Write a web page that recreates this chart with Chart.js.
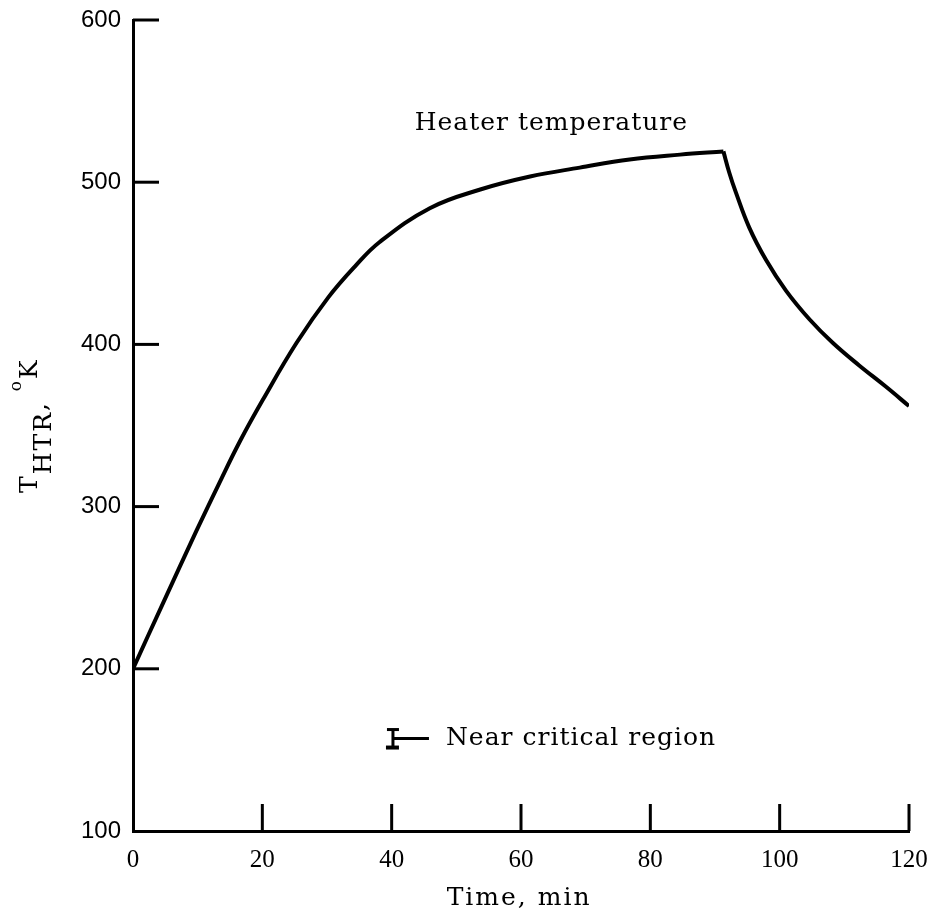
<!DOCTYPE html>
<html>
<head>
<meta charset="utf-8">
<script src="https://cdn.jsdelivr.net/npm/chart.js@4.4.0/dist/chart.umd.min.js"></script>
<style>
  html, body { margin: 0; padding: 0; background: #fff; }
  #wrap { width: 944px; height: 918px; }
</style>
</head>
<body>
<div id="wrap"><canvas id="chart" width="944" height="918"></canvas></div>
<script>
// Heater temperature, rising part (min, K)
const riseTime = [0, 4.7, 9.8, 13.4, 16.5, 20.1, 25.3, 30.2, 34.3, 38.1, 45.9, 53.7, 61.4, 69.1, 76.8, 84.6, 91.3];
const riseTemp = [200, 241, 285, 315, 340, 366, 401, 429, 448, 463, 484, 495.5, 503.5, 509, 514, 517, 519];
// cooling part after the heater is switched off
const fallTime = [91.3, 92.2, 93.2, 95.3, 97.9, 101, 104.6, 108.2, 112.3, 116.4, 120];
const fallTemp = [519, 506, 494, 472, 452, 433, 415.5, 401, 387, 374, 362];

const xTicks = [0, 20, 40, 60, 80, 100, 120];
const yTicks = [100, 200, 300, 400, 500, 600];

const curveLabel = "Heater temperature";
const legendLabel = "Near critical region";
const xTitle = "Time, min";

function toPoints(xs, ys) {
    return xs.map((t, i) => ({ x: t, y: ys[i] }));
}

const inkPlugin = {
    id: "ink",
    afterDraw(chart) {
        const { ctx, scales: { x, y } } = chart;
        const line = (ax, ay, bx, by) => {
            ctx.beginPath();
            ctx.moveTo(ax, ay);
            ctx.lineTo(bx, by);
            ctx.stroke();
        };
        ctx.save();
        ctx.strokeStyle = "#000";
        ctx.fillStyle = "#000";
        ctx.lineWidth = 3;

        // inward tick marks
        const x0 = x.getPixelForValue(0);
        const y0 = y.getPixelForValue(100);
        yTicks.slice(1).forEach(v => {
            const py = y.getPixelForValue(v);
            line(x0, py, x0 + 26, py);
        });
        xTicks.slice(1).forEach(v => {
            const px = x.getPixelForValue(v);
            line(px, y0, px, y0 - 27);
        });

        // curve label
        ctx.font = "25px 'DejaVu Serif'";
        ctx.letterSpacing = "1px";
        ctx.textAlign = "center";
        ctx.textBaseline = "middle";
        ctx.fillText(curveLabel, x.getPixelForValue(64.7), y.getPixelForValue(536));

        // legend: I-beam symbol + dash
        const sx = x.getPixelForValue(40.2);
        const sy = y.getPixelForValue(157);
        line(sx, sy - 9, sx, sy + 9);
        line(sx - 6, sy - 9, sx + 6, sy - 9);
        ctx.lineWidth = 4;
        line(sx - 7, sy + 9, sx + 6, sy + 9);
        ctx.lineWidth = 3;
        line(sx, sy, sx + 36, sy);
        ctx.textAlign = "left";
        ctx.fillText(legendLabel, x.getPixelForValue(48.4), sy);

        // x axis title
        ctx.textAlign = "center";
        ctx.letterSpacing = "2px";
        ctx.fillText(xTitle, x.getPixelForValue(59.7), 898);

        // y axis title: T_HTR, °K (rotated)
        ctx.translate(37, 493);
        ctx.rotate(-Math.PI / 2);
        ctx.letterSpacing = "2px";
        ctx.textAlign = "left";
        ctx.textBaseline = "alphabetic";
        let cx = 0;
        ctx.font = "25px 'DejaVu Serif'";
        ctx.fillText("T", cx, 0);
        cx += ctx.measureText("T").width;
        ctx.fillText("HTR", cx, 14);
        cx += ctx.measureText("HTR").width;
        ctx.fillText(",", cx, 10);
        cx += ctx.measureText(", ").width;
        ctx.font = "17px 'DejaVu Serif'";
        ctx.fillText("o", cx, -16);
        cx += ctx.measureText("o").width;
        ctx.font = "25px 'DejaVu Serif'";
        ctx.fillText("K", cx, 0);
        ctx.restore();
    }
};

const lineStyle = {
    borderColor: "#000",
    borderWidth: 4,
    pointRadius: 0,
    tension: 0.4,
    fill: false
};

new Chart(document.getElementById("chart"), {
    type: "line",
    data: {
        datasets: [
            Object.assign({ data: toPoints(riseTime, riseTemp) }, lineStyle),
            Object.assign({ data: toPoints(fallTime, fallTemp) }, lineStyle)
        ]
    },
    options: {
        responsive: false,
        animation: false,
        devicePixelRatio: 1,
        layout: { padding: { top: 20, right: 35, left: 0, bottom: 0 } },
        plugins: {
            legend: { display: false },
            tooltip: { enabled: false }
        },
        scales: {
            x: {
                type: "linear",
                min: 0,
                max: 120,
                afterBuildTicks: s => { s.ticks = xTicks.map(v => ({ value: v })); },
                afterFit: s => { s.height = 87; s.paddingLeft = 0; s.paddingRight = 0; },
                grid: { display: false, drawTicks: false },
                border: { display: true, color: "#000", width: 3 },
                ticks: {
                    color: "#000",
                    padding: 14,
                    maxRotation: 0,
                    font: { family: "'Liberation Serif'", size: 25 }
                }
            },
            y: {
                type: "linear",
                min: 100,
                max: 600,
                afterBuildTicks: s => { s.ticks = yTicks.map(v => ({ value: v })); },
                afterFit: s => { s.width = 133; s.paddingTop = 0; s.paddingBottom = 0; },
                grid: { display: false, drawTicks: false },
                border: { display: true, color: "#000", width: 3 },
                ticks: {
                    color: "#000",
                    padding: 12,
                    font: { family: "'Liberation Sans'", size: 24 }
                }
            }
        }
    },
    plugins: [inkPlugin]
});
</script>
</body>
</html>
